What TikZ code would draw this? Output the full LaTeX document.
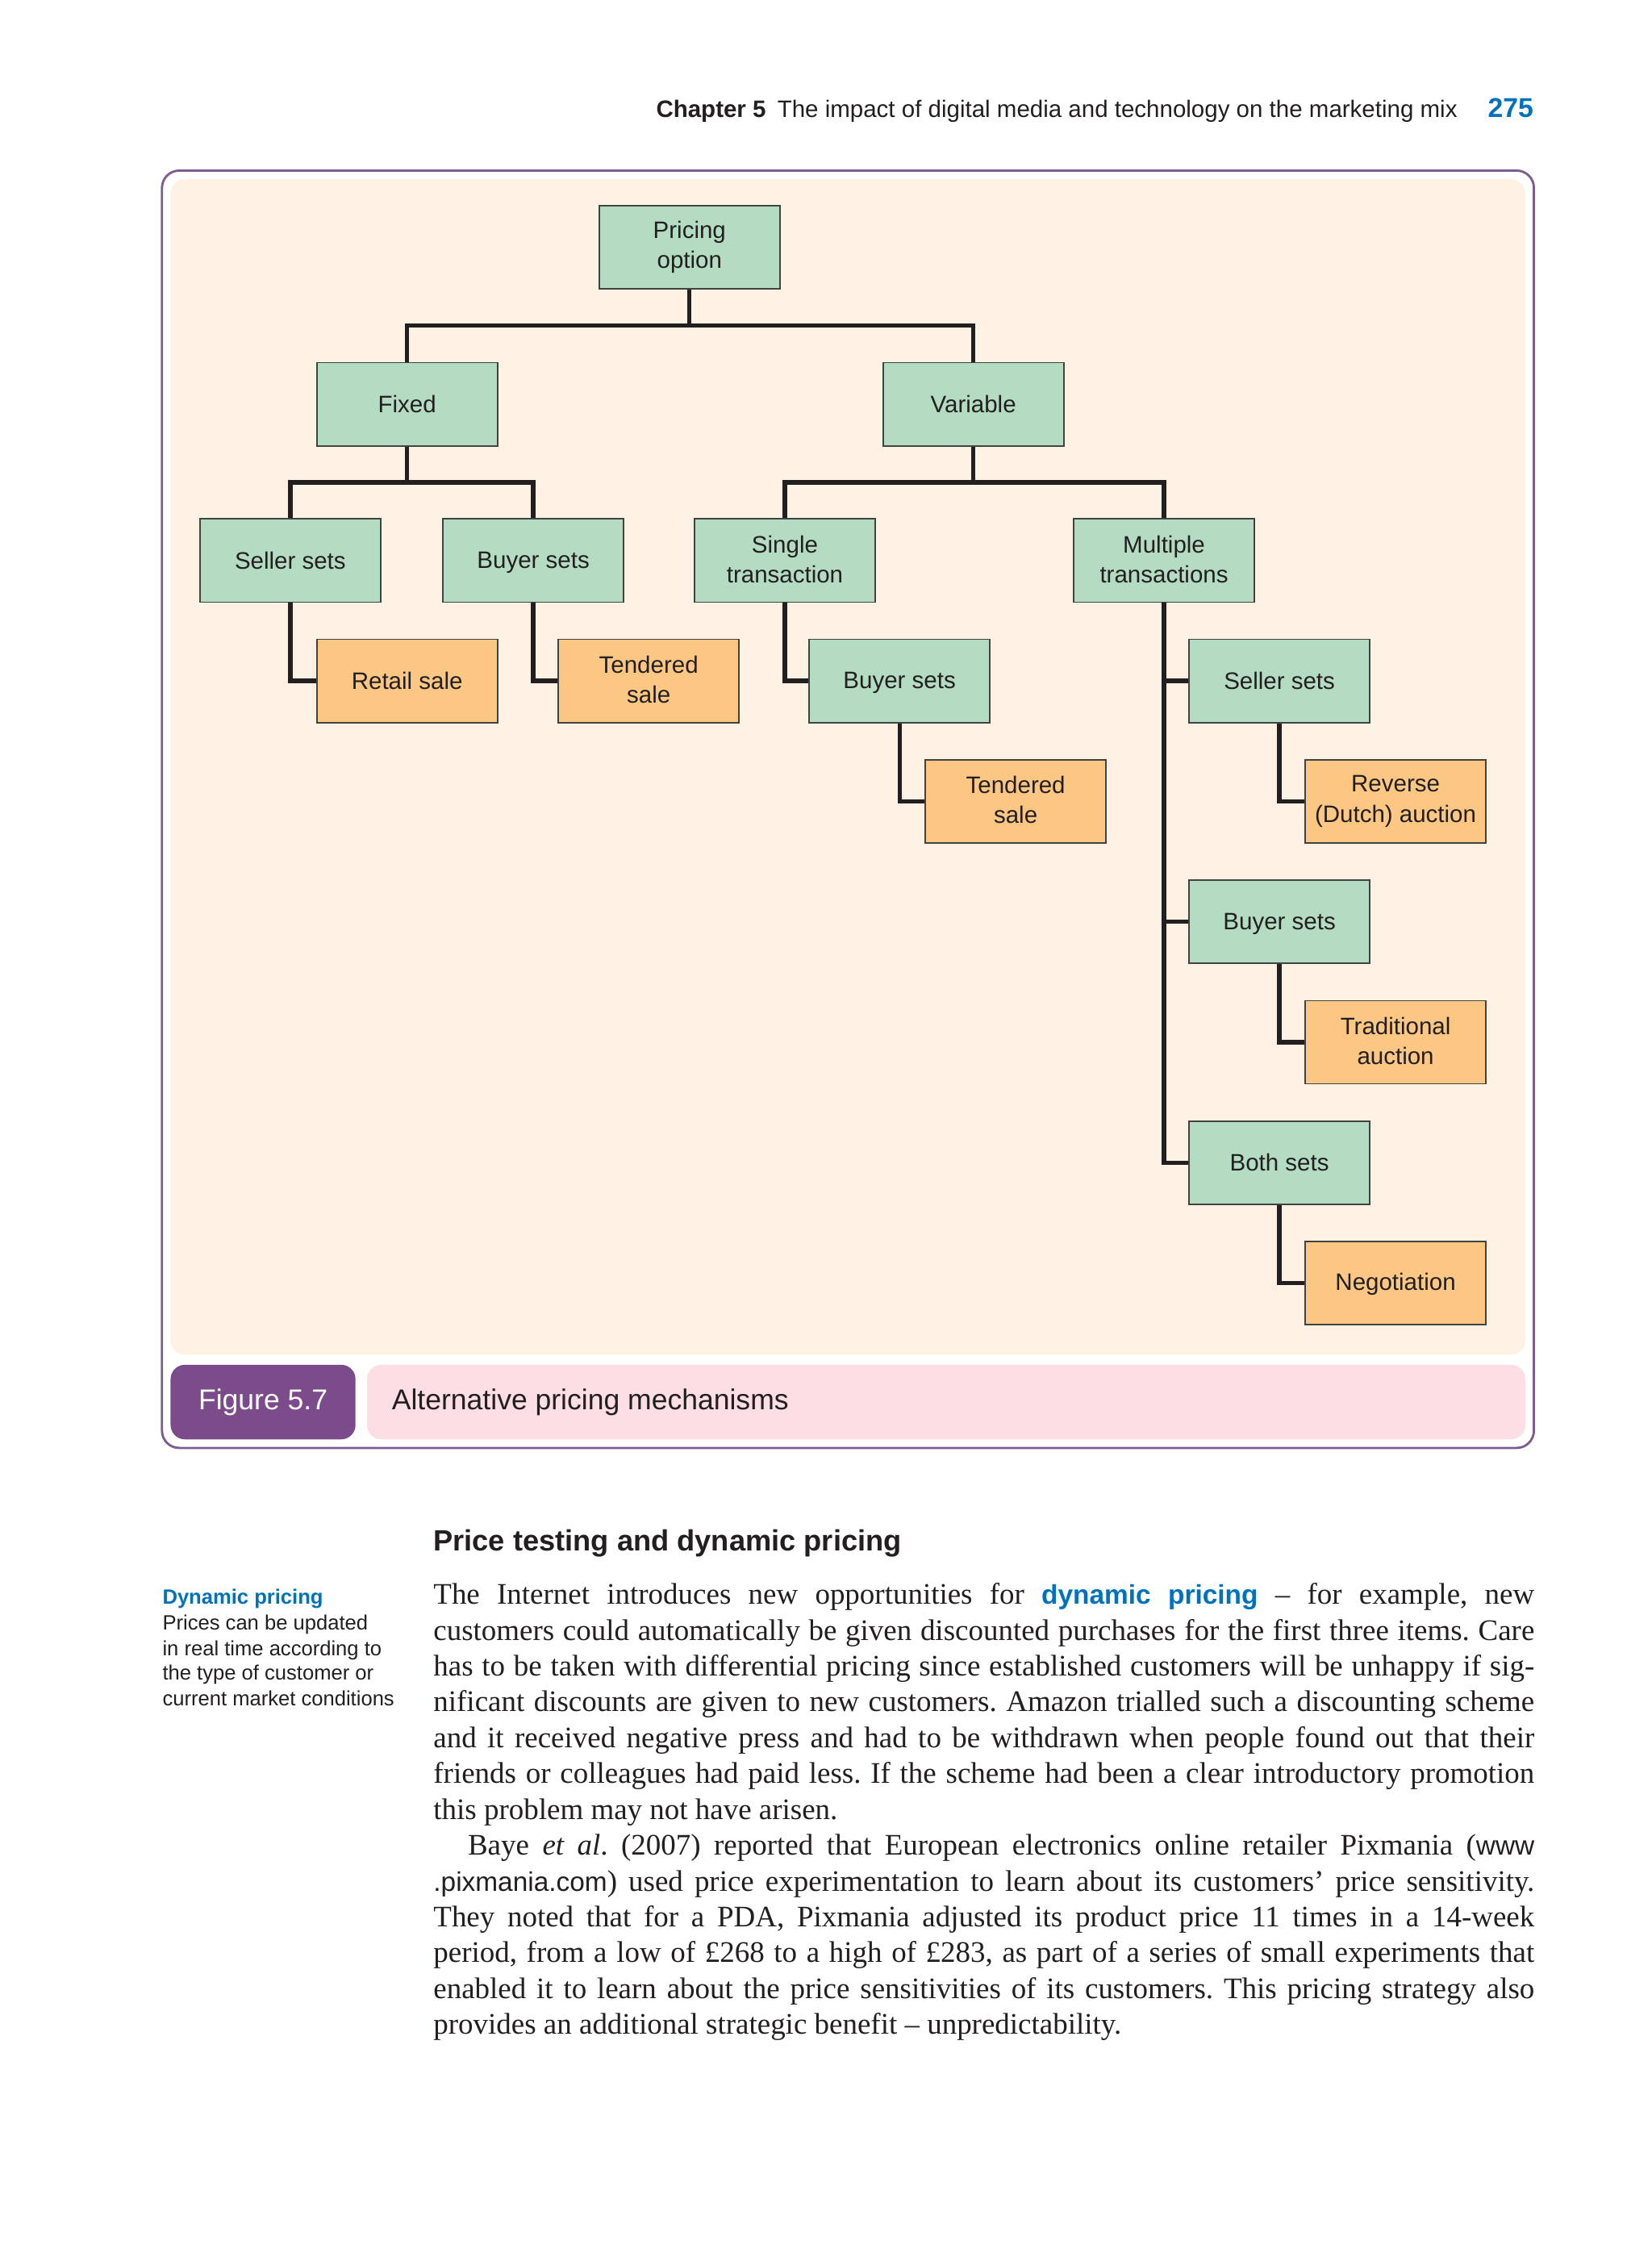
\documentclass[tikz,border=0pt]{standalone}
\usepackage{fontspec}
\setmainfont{Liberation Serif}
\setsansfont{Liberation Sans}
\usetikzlibrary{positioning}
\definecolor{choicegreen}{HTML}{B3DCC3}
\definecolor{outcomeorange}{HTML}{FCC683}
\definecolor{panelcream}{HTML}{FEF2E4}
\definecolor{tagpurple}{HTML}{7B4B8B}
\definecolor{captionpink}{HTML}{FCDEE4}
\definecolor{framepurple}{HTML}{7D5C92}
\definecolor{keyblue}{HTML}{0072BC}
\definecolor{inkblack}{HTML}{231F20}
\newcommand\figboxfont{\sffamily\fontsize{8.3}{10.5}\selectfont}
\newcommand\boxstrut{\rule[-1pt]{0pt}{8pt}}
\newcommand\pagebodyfont{\rmfamily\fontsize{10.4}{12.5}\selectfont\frenchspacing}
\newcommand\marginfont{\sffamily\fontsize{7.2}{8.85}\selectfont}
\newcommand\keyterm[1]{{\sffamily\bfseries\color{keyblue}#1}}
\newcommand\bodykey[1]{{\sffamily\bfseries\fontsize{9.4}{12.5}\selectfont\color{keyblue}#1}}
\newcommand\urlpart[1]{{\sffamily\fontsize{9.4}{12.5}\selectfont #1}}
\begin{document}
\begin{tikzpicture}[x=0.5pt,y=-0.5pt,line join=miter,
    box/.style={draw=inkblack!85,line width=0.5pt,minimum width=63pt,minimum height=29pt,inner sep=1pt,align=center,font=\figboxfont,text=inkblack,
        execute at begin node=\boxstrut,execute at end node=\boxstrut},
    choice/.style={box,fill=choicegreen},
    outcome/.style={box,fill=outcomeorange},
    link/.style={draw=inkblack,line width=1.5pt},
    bodyline/.style={anchor=base west,inner sep=0pt,font=\pagebodyfont,text=inkblack},
    noteline/.style={anchor=base west,inner sep=0pt,font=\marginfont,text=inkblack}]
    \useasboundingbox[fill=white] (0,0) rectangle (1152,1566);
    % page header
    \node[anchor=base east,inner sep=0pt,font=\sffamily\fontsize{8.3}{10}\selectfont,text=inkblack] (header) at (1017,82)
        {\textbf{Chapter 5}\hspace{4pt}The impact of digital media and technology on the marketing mix};
    \node[anchor=base east,inner sep=0pt,font=\sffamily\bfseries\fontsize{9.5}{10}\selectfont,text=keyblue] (pageno) at (1070,82) {275};
    % figure frame
    \draw[framepurple,line width=0.8pt,rounded corners=6pt] (113,119) rectangle (1070,1010);
    \fill[panelcream,rounded corners=5pt] (119,125) rectangle (1064,945);
    \fill[tagpurple,rounded corners=5pt] (119,952) rectangle (248,1004);
    \fill[captionpink,rounded corners=5pt] (256,952) rectangle (1064,1004);
    \node[inner sep=0pt,font=\sffamily\fontsize{10}{12}\selectfont,text=white] (figtag) at (183.5,978) {Figure 5.7};
    \node[anchor=west,inner sep=0pt,font=\sffamily\fontsize{10}{12}\selectfont,text=inkblack] (figcap) at (273,978) {Alternative pricing mechanisms};
    % tree
    \node[choice] (pricing) at (481,172.5) {Pricing\\option};
    \node[choice] (fixed) at (284,282) {Fixed};
    \node[choice] (variable) at (679,282) {Variable};
    \node[choice] (fixseller) at (202.5,391) {Seller sets};
    \node[choice] (fixbuyer) at (372,391) {Buyer sets};
    \node[choice] (single) at (547.5,391) {Single\\transaction};
    \node[choice] (multiple) at (812,391) {Multiple\\transactions};
    \node[outcome] (retail) at (284,475) {Retail sale};
    \node[outcome] (tenderA) at (452.5,475) {Tendered\\sale};
    \node[choice] (singlebuyer) at (627.5,475) {Buyer sets};
    \node[outcome] (tenderB) at (708.5,559) {Tendered\\sale};
    \node[choice] (multiseller) at (892.5,475) {Seller sets};
    \node[outcome] (reverse) at (973.5,559) {Reverse\\(Dutch) auction};
    \node[choice] (multibuyer) at (892.5,643) {Buyer sets};
    \node[outcome] (traditional) at (973.5,727) {Traditional\\auction};
    \node[choice] (both) at (892.5,811) {Both sets};
    \node[outcome] (negotiation) at (973.5,895) {Negotiation};
    \draw[link] (pricing.south) -- ++(0,25) -| (fixed.north);
    \draw[link] (pricing.south) -- ++(0,25) -| (variable.north);
    \draw[link] (fixed.south) -- ++(0,25) -| (fixseller.north);
    \draw[link] (fixed.south) -- ++(0,25) -| (fixbuyer.north);
    \draw[link] (variable.south) -- ++(0,25) -| (single.north);
    \draw[link] (variable.south) -- ++(0,25) -| (multiple.north);
    \draw[link] (fixseller.south) |- (retail.west);
    \draw[link] (fixbuyer.south) |- (tenderA.west);
    \draw[link] (single.south) |- (singlebuyer.west);
    \draw[link] (singlebuyer.south) |- (tenderB.west);
    \foreach \kid in {multiseller,multibuyer,both}
        \draw[link] (multiple.south) |- (\kid.west);
    \draw[link] (multiseller.south) |- (reverse.west);
    \draw[link] (multibuyer.south) |- (traditional.west);
    \draw[link] (both.south) |- (negotiation.west);
    % text below the figure
    \node[anchor=base west,inner sep=0pt,font=\sffamily\bfseries\fontsize{10.2}{12}\selectfont,text=inkblack] (heading) at (302,1082)
        {Price testing and dynamic pricing};
    \node[noteline] (note0) at (113,1119) {\keyterm{Dynamic pricing}};
    \node[noteline] (note1) at (113,1137) {Prices can be updated};
    \node[noteline] (note2) at (113,1155) {in real time according to};
    \node[noteline] (note3) at (113,1172) {the type of customer or};
    \node[noteline] (note4) at (113,1190) {current market conditions};
    \node[bodyline] (line1) at (302,1119) {\makebox[384pt][s]{The Internet introduces new opportunities for \bodykey{dynamic pricing} -- for example, new}};
    \node[bodyline] (line2) at (302,1144) {\makebox[384pt][s]{customers could automatically be given discounted purchases for the first three items. Care}};
    \node[bodyline] (line3) at (302,1169) {\makebox[384pt][s]{has to be taken with differential pricing since established customers will be unhappy if sig-}};
    \node[bodyline] (line4) at (302,1194) {\makebox[384pt][s]{nificant discounts are given to new customers. Amazon trialled such a discounting scheme}};
    \node[bodyline] (line5) at (302,1219) {\makebox[384pt][s]{and it received negative press and had to be withdrawn when people found out that their}};
    \node[bodyline] (line6) at (302,1244) {\makebox[384pt][s]{friends or colleagues had paid less. If the scheme had been a clear introductory promotion}};
    \node[bodyline] (line7) at (302,1269) {this problem may not have arisen.};
    \node[bodyline] (line8) at (302,1294) {\makebox[384pt][s]{\hspace*{12pt}Baye \textit{et al}. (2007) reported that European electronics online retailer Pixmania (\urlpart{www}}};
    \node[bodyline] (line9) at (302,1319) {\makebox[384pt][s]{\urlpart{.pixmania.com}) used price experimentation to learn about its customers' price sensitivity.}};
    \node[bodyline] (line10) at (302,1344) {\makebox[384pt][s]{They noted that for a PDA, Pixmania adjusted its product price 11 times in a 14-week}};
    \node[bodyline] (line11) at (302,1369) {\makebox[384pt][s]{period, from a low of £268 to a high of £283, as part of a series of small experiments that}};
    \node[bodyline] (line12) at (302,1394) {\makebox[384pt][s]{enabled it to learn about the price sensitivities of its customers. This pricing strategy also}};
    \node[bodyline] (line13) at (302,1419) {provides an additional strategic benefit -- unpredictability.};
\end{tikzpicture}
\end{document}
